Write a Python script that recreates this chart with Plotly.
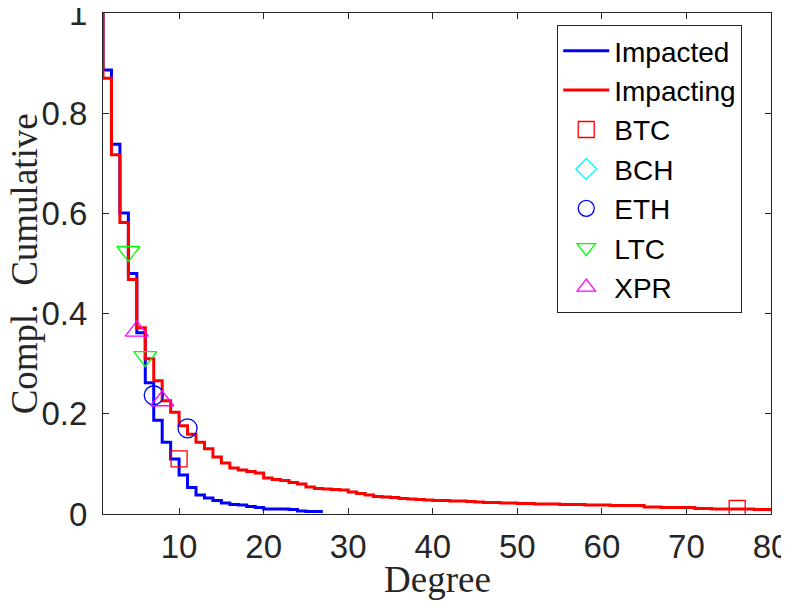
import plotly.graph_objects as go

# complementary cumulative degree distribution
# value at degree k is the level of the step between k-1 and k
degrees_impacted = list(range(1, 28))
ccdf_impacted = [1.0, 0.886, 0.738, 0.601, 0.480, 0.362, 0.262, 0.187, 0.143, 0.110,
                 0.078, 0.053, 0.038, 0.032, 0.027, 0.022, 0.019, 0.018, 0.015, 0.013,
                 0.010, 0.010, 0.010, 0.009, 0.006, 0.005, 0.005]

degrees_impacting = list(range(1, 81))
ccdf_impacting = [1.0, 0.870, 0.717, 0.582, 0.468, 0.372, 0.310, 0.266, 0.226, 0.203,
                  0.176, 0.159, 0.143, 0.130, 0.114, 0.102, 0.092, 0.088, 0.085, 0.082,
                  0.072, 0.069, 0.067, 0.063, 0.060, 0.054, 0.051, 0.050, 0.049, 0.048,
                  0.044, 0.041, 0.038, 0.035, 0.034, 0.033, 0.031, 0.030, 0.029, 0.028,
                  0.027, 0.027, 0.026, 0.026, 0.025, 0.024, 0.023, 0.023, 0.022, 0.022,
                  0.021, 0.021, 0.020, 0.020, 0.020, 0.019, 0.019, 0.019, 0.018, 0.018,
                  0.018, 0.017, 0.017, 0.017, 0.017, 0.014, 0.014, 0.013, 0.013, 0.013,
                  0.013, 0.011, 0.011, 0.010, 0.010, 0.010, 0.010, 0.010, 0.009, 0.009]

# currency markers (degree, ccdf)
btc_x = [10, 76]
btc_y = [0.110, 0.011]
bch_x = [None]   # only in the legend
bch_y = [None]
eth_x = [7, 11]
eth_y = [0.237, 0.171]
ltc_x = [4, 6]
ltc_y = [0.524, 0.314]
xpr_x = [5, 8]
xpr_y = [0.365, 0.226]

xtick_vals = [10, 20, 30, 40, 50, 60, 70, 80]
ytick_vals = [0, 0.2, 0.4, 0.6, 0.8, 1]
ytick_text = ["0", "0.2", "0.4", "0.6", "0.8", "1"]

fig = go.Figure()

fig.add_trace(go.Scatter(x=degrees_impacted, y=ccdf_impacted, name="Impacted",
                         mode="lines", line=dict(color="#0000ff", width=3, shape="vh")))
fig.add_trace(go.Scatter(x=degrees_impacting, y=ccdf_impacting, name="Impacting",
                         mode="lines", line=dict(color="#ff0000", width=3, shape="vh")))

markers = [
    ("BTC", btc_x, btc_y, "square-open", "#ff0000", 16),
    ("BCH", bch_x, bch_y, "diamond-open", "#00ffff", 16),
    ("ETH", eth_x, eth_y, "circle-open", "#0000ff", 19),
    ("LTC", ltc_x, ltc_y, "triangle-down-open", "#00ff00", 20),
    ("XPR", xpr_x, xpr_y, "triangle-up-open", "#ff00ff", 20),
]
for name, xs, ys, sym, col, sz in markers:
    fig.add_trace(go.Scatter(x=xs, y=ys, name=name, mode="markers",
                             marker=dict(symbol=sym, size=sz, color=col,
                                         line=dict(color=col, width=1.3))))

axis_style = dict(showline=True, linecolor="#262626", linewidth=1, mirror="ticks",
                  ticks="inside", ticklen=6, tickcolor="#262626", showgrid=False,
                  zeroline=False, automargin=False, ticklabeloverflow="allow",
                  tickfont=dict(family="Liberation Sans", size=33, color="#262626"))
title_font = dict(family="Liberation Serif", size=37, color="#262626")

fig.update_xaxes(range=[1, 80], tickvals=xtick_vals, ticklabelstandoff=3, **axis_style)
fig.update_yaxes(range=[0, 1], tickvals=ytick_vals, ticktext=ytick_text,
                 ticklabelstandoff=8, **axis_style)

# axis titles as annotations so they can sit exactly where the original has them
fig.add_annotation(text="Degree", xref="paper", yref="paper", x=0.5, y=-0.13,
                   xanchor="center", yanchor="middle", showarrow=False, font=title_font)
fig.add_annotation(text="Compl.  Cumulative", xref="paper", yref="paper", x=-0.117, y=0.5,
                   xanchor="center", yanchor="middle", textangle=-90,
                   showarrow=False, font=title_font)

# page is drawn with an 8px body margin, so shift the plot area back by that much
fig.update_layout(
    width=789, height=607,
    margin=dict(l=95, r=26, t=5, b=101),
    plot_bgcolor="white", paper_bgcolor="white",
    legend=dict(x=0.68, y=0.976, xanchor="left", yanchor="top", itemwidth=46,
                bgcolor="white", bordercolor="#262626", borderwidth=1,
                font=dict(family="Liberation Sans", size=28, color="black")),
)

fig.write_html("out.html")
